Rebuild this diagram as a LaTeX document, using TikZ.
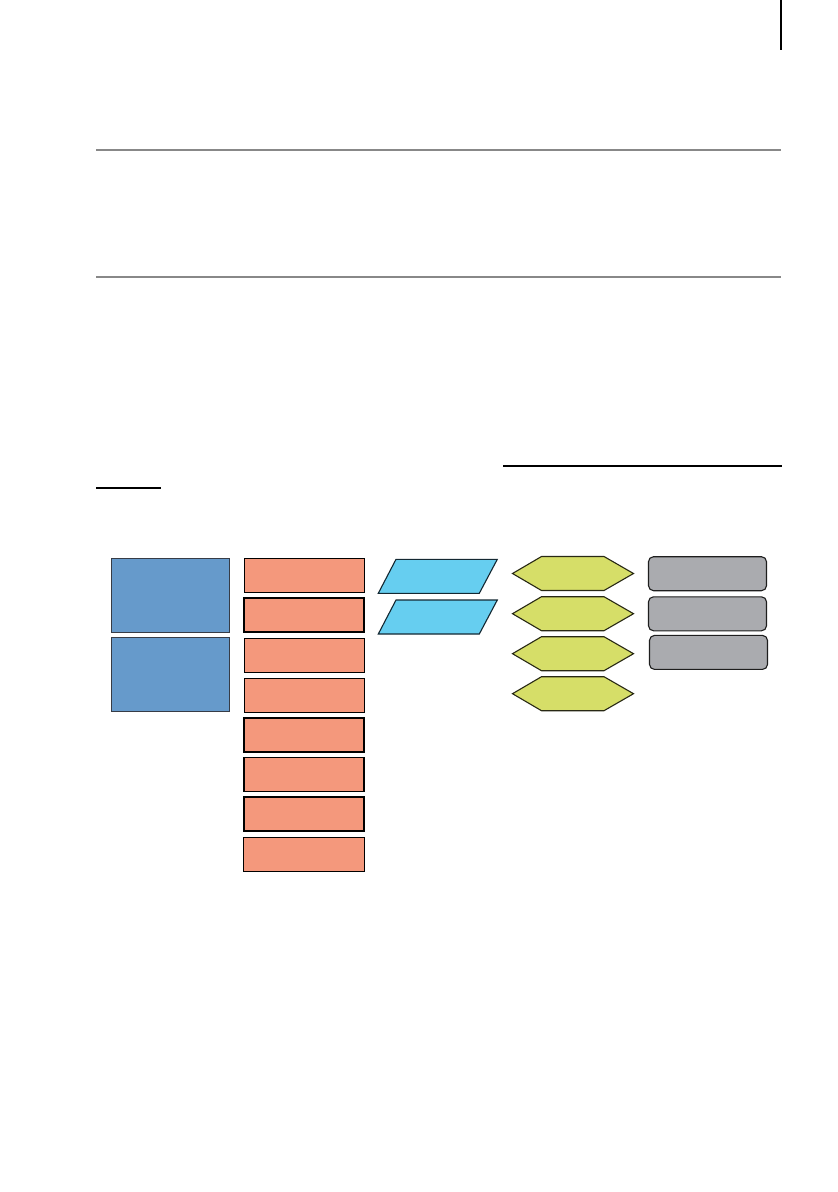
\documentclass[tikz,border=0pt]{standalone}
\usetikzlibrary{positioning}
\definecolor{bluefill}{RGB}{102,154,203}
\definecolor{salmon}{RGB}{244,152,124}
\definecolor{skyfill}{RGB}{102,206,240}
\definecolor{limefill}{RGB}{214,222,104}
\definecolor{greyfill}{RGB}{170,171,175}
\definecolor{ruleGray}{RGB}{136,136,136}
\tikzset{
  basebox/.style={rectangle, inner sep=0pt, outer sep=0pt},
  bluebox/.style={basebox, draw={rgb,255:red,55;green,60;blue,70}, line width=1.2pt, fill=bluefill, minimum width=118pt, minimum height=73.5pt},
  salmonbox/.style={basebox, draw=black, line width=1.1pt, fill=salmon, minimum width=120pt, minimum height=34pt},
  thicksalmon/.style={salmonbox, line width=2.2pt},
  paralshape/.style={draw={rgb,255:red,20;green,40;blue,50}, line width=1.1pt, fill=skyfill, line join=miter},
  hexshape/.style={draw={rgb,255:red,40;green,40;blue,20}, line width=1.1pt, fill=limefill, line join=miter},
  greybox/.style={basebox, draw={rgb,255:red,30;green,30;blue,30}, line width=1.1pt, fill=greyfill, rounded corners=5pt, minimum width=118pt, minimum height=34pt},
  grayrule/.style={draw=ruleGray, line width=1.4pt},
  blackrule/.style={draw=black, line width=1.4pt}
}
\begin{document}
\begin{tikzpicture}[x=1pt,y=-1pt]
\useasboundingbox (0,0) rectangle (838,1192);
\fill[white] (0,0) rectangle (838,1192);

% page marker at top right
\coordinate (pm1) at (781,0);
\coordinate (pm2) at (781,50);
\draw[blackrule] (pm1) -- (pm2);

% gray rules
\coordinate (g1a) at (96,150);
\coordinate (g1b) at (781,150);
\coordinate (g2a) at (96,277);
\coordinate (g2b) at (781,277);
\draw[grayrule] (g1a) -- (g1b);
\draw[grayrule] (g2a) -- (g2b);

% black underline rules
\coordinate (u1a) at (503,466);
\coordinate (u1b) at (782,466);
\coordinate (u2a) at (96,488);
\coordinate (u2b) at (161,488);
\draw[blackrule] (u1a) -- (u1b);
\draw[blackrule] (u2a) -- (u2b);

% blue boxes
\node[bluebox] (b1) at (170.8,595.5) {};
\node[bluebox] (b2) at (170.5,674.5) {};

% salmon boxes
\node[salmonbox] (s1) at (304.3,575.3) {};
\node[thicksalmon] (s2) at (304.3,614.8) {};
\node[salmonbox] (s3) at (304.3,655.3) {};
\node[salmonbox] (s4) at (304.3,695.3) {};
\node[thicksalmon] (s5) at (304.0,735.0) {};
\node[salmonbox] (s6) at (304.0,774.2) {};
\node[thicksalmon, minimum width=120.5pt] (s7) at (304.0,814.2) {};
\node[salmonbox, minimum width=121pt] (s8) at (304.0,854.2) {};

% parallelograms
\draw[paralshape] (396,559.3) -- (497.3,559.3) -- (479.3,593.3) -- (378.3,593.3) -- cycle;
\draw[paralshape] (396,600) -- (497.3,600) -- (479.3,634) -- (378.3,634) -- cycle;

% hexagons
\foreach \t [count=\i] in {556.5,596.7,636.7,676.7}{
  \draw[hexshape] (512.5,\t+17) -- (541.5,\t) -- (604,\t) -- (633.5,\t+17) -- (604,\t+34) -- (541.5,\t+34) -- cycle;
}

% grey rounded boxes
\node[greybox] (r1) at (707.5,573.7) {};
\node[greybox] (r2) at (707.5,613.8) {};
\node[greybox] (r3) at (708.5,652.4) {};
\end{tikzpicture}
\end{document}
